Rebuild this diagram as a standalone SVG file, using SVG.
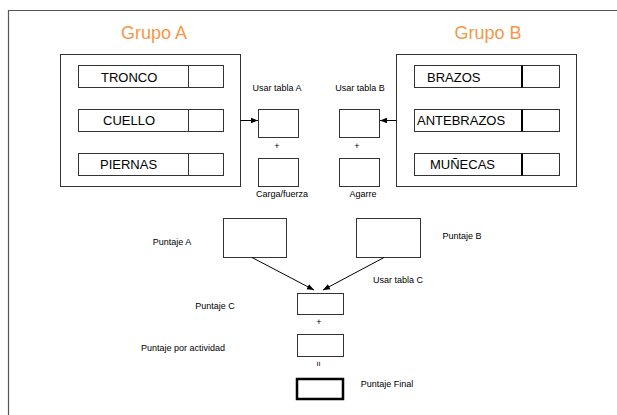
<svg xmlns="http://www.w3.org/2000/svg" width="617" height="415" viewBox="0 0 617 415">
<style>
text{font-family:"Liberation Sans",Arial,sans-serif;fill:#000}
.b{fill:#fff;stroke:#333;stroke-width:1}
.g{font-size:18px;fill:#f79646;text-anchor:middle}
.r{font-size:13px}
.s{font-size:9px;text-anchor:middle}
.c{stroke:#000;stroke-width:1;fill:none;marker-end:url(#ah)}
</style>
<defs>
<marker id="ah" viewBox="0 0 10 10" refX="10" refY="5" markerWidth="7" markerHeight="7" markerUnits="userSpaceOnUse" orient="auto">
<path d="M0,1 L10,5 L0,9 z" fill="#000"/>
</marker>
</defs>
<rect width="617" height="415" fill="#fff"/>
<path d="M8.5,420 L8.5,10.5 L620,10.5" fill="none" stroke="#555" stroke-width="1.2"/>
<g id="grupoA">
<text class="g" x="154" y="39">Grupo A</text>
<rect class="b" x="60.5" y="54.5" width="180" height="132"/>
<rect class="b" x="78.5" y="65.5" width="145" height="22"/><line x1="188.5" y1="65.5" x2="188.5" y2="87.5" stroke="#333"/>
<text class="r" x="101" y="82">TRONCO</text>
<rect class="b" x="78.5" y="109.5" width="145" height="22"/><line x1="188.5" y1="109.5" x2="188.5" y2="131.5" stroke="#333"/>
<text class="r" x="103" y="125">CUELLO</text>
<rect class="b" x="78.5" y="153.5" width="145" height="22"/><line x1="188.5" y1="153.5" x2="188.5" y2="175.5" stroke="#333"/>
<text class="r" x="100" y="169">PIERNAS</text>
</g>
<g id="grupoB">
<text class="g" x="488" y="39">Grupo B</text>
<rect class="b" x="396.5" y="54.5" width="180" height="132"/>
<rect class="b" x="414.5" y="65.5" width="145" height="22"/><line x1="522" y1="65.5" x2="522" y2="87.5" stroke="#000" stroke-width="2"/>
<text class="r" x="427" y="82">BRAZOS</text>
<rect class="b" x="414.5" y="109.5" width="145" height="22"/><line x1="522" y1="109.5" x2="522" y2="131.5" stroke="#000" stroke-width="2"/>
<text class="r" x="417" y="125">ANTEBRAZOS</text>
<rect class="b" x="414.5" y="153.5" width="145" height="22"/><line x1="522" y1="153.5" x2="522" y2="175.5" stroke="#000" stroke-width="2"/>
<text class="r" x="430" y="169">MUÑECAS</text>
</g>
<g id="tablaA">
<text class="s" x="277" y="91">Usar tabla A</text>
<rect class="b" x="258.5" y="109.5" width="40" height="28"/>
<text class="s" x="277" y="149">+</text>
</g>
<g id="carga">
<rect class="b" x="258.5" y="158.5" width="40" height="28"/>
<text class="s" x="282" y="197">Carga/fuerza</text>
</g>
<g id="tablaB">
<text class="s" x="360" y="91">Usar tabla B</text>
<rect class="b" x="339.5" y="109.5" width="40" height="28"/>
<text class="s" x="357" y="149">+</text>
</g>
<g id="agarre">
<rect class="b" x="339.5" y="158.5" width="40" height="28"/>
<text class="s" x="363" y="197">Agarre</text>
</g>
<g id="puntajeA">
<rect class="b" x="223.5" y="218.5" width="63" height="39"/>
<text class="s" x="172" y="245">Puntaje A</text>
</g>
<g id="puntajeB">
<rect class="b" x="356.5" y="218.5" width="64" height="39" stroke="#000"/>
<text class="s" x="462" y="239">Puntaje B</text>
</g>
<g id="puntajeC">
<text class="s" x="398" y="283">Usar tabla C</text>
<rect class="b" x="297.5" y="293.5" width="46" height="21"/>
<text class="s" x="215" y="309">Puntaje C</text>
<text class="s" x="319" y="325">+</text>
</g>
<g id="actividad">
<rect class="b" x="297.5" y="334.5" width="46" height="22"/>
<text class="s" x="183" y="351">Puntaje por actividad</text>
<text class="s" x="319" y="367" transform="rotate(90 319 364)">=</text>
</g>
<g id="final">
<rect x="297" y="379" width="46" height="20" fill="#fff" stroke="#000" stroke-width="2.5"/>
<text class="s" x="387" y="387">Puntaje Final</text>
</g>
<g id="connectors">
<line class="c" x1="240.5" y1="120.5" x2="258" y2="120.5"/>
<line class="c" x1="396.5" y1="120.5" x2="380" y2="120.5"/>
<line class="c" x1="252" y1="257.5" x2="314" y2="290"/>
<line class="c" x1="384" y1="257.5" x2="323" y2="290"/>
</g>
</svg>
